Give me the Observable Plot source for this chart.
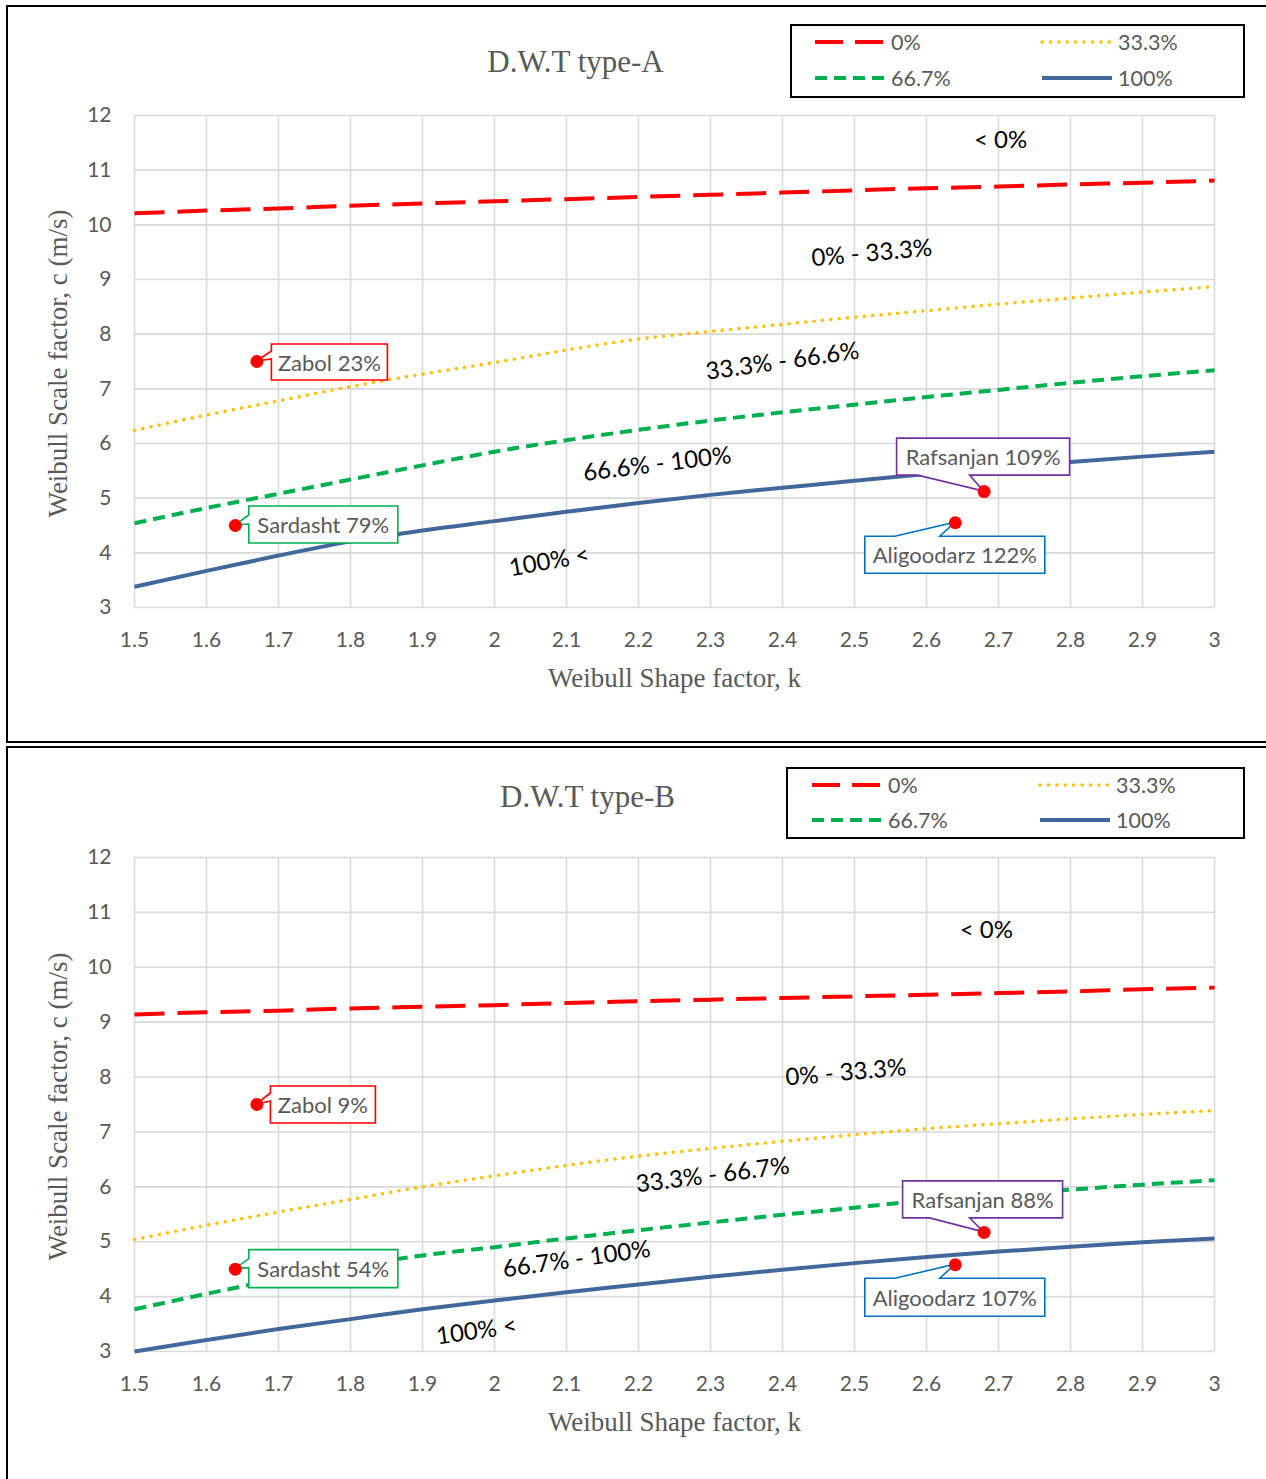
<!DOCTYPE html>
<html>
<head>
<meta charset="utf-8">
<script src="https://cdn.jsdelivr.net/npm/d3@7"></script>
<script src="https://cdn.jsdelivr.net/npm/@observablehq/plot@0.6"></script>
<style>
  body { margin: 0; background: #fff; }
  #root { position: relative; width: 1266px; height: 1479px; overflow: hidden; font-family: Lato, "Liberation Sans", sans-serif; }
  .frame { position: absolute; border: 2px solid #000; box-sizing: border-box; }
  .chart { position: absolute; left: 0; }
  .legend { position: absolute; }
</style>
</head>
<body>
<div id="root"></div>
<script>
// ---------------- DATA ----------------
const kValues = [1.5, 1.6, 1.7, 1.8, 1.9, 2.0, 2.1, 2.2, 2.3, 2.4, 2.5, 2.6, 2.7, 2.8, 2.9, 3.0];
const seriesNames = ["0%", "33.3%", "66.7%", "100%"];

// D.W.T type-A : Weibull scale factor c (m/s) for each k
const typeA_0   = [10.21, 10.26, 10.30, 10.35, 10.39, 10.43, 10.47, 10.51, 10.55, 10.59, 10.63, 10.67, 10.70, 10.74, 10.77, 10.81];
const typeA_333 = [6.24, 6.52, 6.78, 7.04, 7.27, 7.48, 7.71, 7.91, 8.05, 8.18, 8.31, 8.43, 8.55, 8.66, 8.77, 8.87];
const typeA_667 = [4.54, 4.82, 5.08, 5.34, 5.60, 5.85, 6.06, 6.25, 6.42, 6.57, 6.71, 6.85, 6.98, 7.11, 7.23, 7.34];
const typeA_100 = [3.38, 3.67, 3.95, 4.21, 4.41, 4.58, 4.75, 4.91, 5.06, 5.19, 5.32, 5.44, 5.55, 5.66, 5.76, 5.85];

// D.W.T type-B
const typeB_0   = [9.14, 9.18, 9.21, 9.25, 9.28, 9.31, 9.35, 9.38, 9.41, 9.44, 9.47, 9.50, 9.53, 9.56, 9.60, 9.63];
const typeB_333 = [5.04, 5.30, 5.54, 5.77, 6.00, 6.20, 6.39, 6.56, 6.70, 6.83, 6.95, 7.06, 7.15, 7.24, 7.32, 7.39];
const typeB_667 = [3.77, 4.05, 4.32, 4.55, 4.75, 4.90, 5.06, 5.21, 5.35, 5.49, 5.62, 5.76, 5.87, 5.95, 6.04, 6.12];
const typeB_100 = [3.00, 3.21, 3.41, 3.59, 3.77, 3.93, 4.08, 4.22, 4.36, 4.49, 4.61, 4.72, 4.82, 4.91, 4.99, 5.06];

// Sites
const siteNames = ["Zabol", "Sardasht", "Rafsanjan", "Aligoodarz"];
const siteK     = [1.67, 1.64, 2.68, 2.64];
const siteC_A   = [7.50, 4.50, 5.12, 4.55];
const siteC_B   = [7.50, 4.50, 5.17, 4.58];
const sitePct_A = [23, 79, 109, 122];
const sitePct_B = [9, 54, 88, 107];

// Region labels (anchored in data coordinates)
const regionText_A = ["< 0%", "0% - 33.3%", "33.3% - 66.6%", "66.6% - 100%", "100% <"];
const regionK_A    = [2.703, 2.524, 2.40, 2.226, 2.076];
const regionC_A    = [11.54, 9.48, 7.50, 5.62, 3.84];
const regionText_B = ["< 0%", "0% - 33.3%", "33.3% - 66.7%", "66.7% - 100%", "100% <"];
const regionK_B    = [2.683, 2.488, 2.303, 2.114, 1.975];
const regionC_B    = [10.67, 8.08, 6.21, 4.68, 3.37];

// Ticks
const xTicks = [1.5, 1.6, 1.7, 1.8, 1.9, 2, 2.1, 2.2, 2.3, 2.4, 2.5, 2.6, 2.7, 2.8, 2.9, 3];
const yTicks = [3, 4, 5, 6, 7, 8, 9, 10, 11, 12];

// ---------------- STYLES / LAYOUT ----------------
const seriesStyle = {
  "0%":    { stroke: "#ff0000", width: 4,   dash: "30 13", cap: "butt" },
  "33.3%": { stroke: "#ffc000", width: 3.5, dash: "0.1 8.3", cap: "round" },
  "66.7%": { stroke: "#00b050", width: 4,   dash: "12 7", cap: "butt" },
  "100%":  { stroke: "#44679b", width: 4,   dash: null, cap: "butt" }
};
const regionRotate = {
  A: [0, -5, -8, -7, -10],
  B: [0, -5, -7, -8, -8]
};
const calloutColor = { Zabol: "#ff0000", Sardasht: "#00b050", Rafsanjan: "#7030a0", Aligoodarz: "#0070c0" };
const calloutLayout = {
  A: {
    Zabol:      { dx: 15,  dy: -17, w: 116, h: 36, side: "left",   a: 7,  b: 15 },
    Sardasht:   { dx: 14,  dy: -19, w: 149, h: 37, side: "left",   a: 9,  b: 18 },
    Rafsanjan:  { dx: -87, dy: -53, w: 173, h: 37, side: "bottom", a: 21, b: 73 },
    Aligoodarz: { dx: -90, dy: 14,  w: 180, h: 37, side: "top",    a: 30, b: 75 }
  },
  B: {
    Zabol:      { dx: 14,  dy: -18, w: 105, h: 37, side: "left",   a: 7,  b: 15 },
    Sardasht:   { dx: 14,  dy: -19, w: 149, h: 38, side: "left",   a: 9,  b: 18 },
    Rafsanjan:  { dx: -81, dy: -51, w: 160, h: 37, side: "bottom", a: 27, b: 67 },
    Aligoodarz: { dx: -90, dy: 14,  w: 180, h: 38, side: "top",    a: 30, b: 75 }
  }
};

const GRAY = "#595959";
const SANS = "Lato, 'Liberation Sans', sans-serif";
const SERIF = "'Liberation Serif', 'Times New Roman', serif";

// ---------------- BUILD ----------------
const root = document.getElementById("root");

function addFrame(left, top, width, height) {
  const d = document.createElement("div");
  d.className = "frame";
  Object.assign(d.style, { left: left + "px", top: top + "px", width: width + "px", height: height + "px" });
  root.appendChild(d);
}

function calloutPath(px, py, L) {
  const x0 = px + L.dx, y0 = py + L.dy, x1 = x0 + L.w, y1 = y0 + L.h;
  let p = `M${x0},${y0}`;
  if (L.side === "top") p += `L${x0 + L.a},${y0}L${px},${py}L${x0 + L.b},${y0}`;
  p += `L${x1},${y0}L${x1},${y1}`;
  if (L.side === "bottom") p += `L${x0 + L.b},${y1}L${px},${py}L${x0 + L.a},${y1}`;
  p += `L${x0},${y1}`;
  if (L.side === "left") p += `L${x0},${y0 + L.b}L${px},${py}L${x0},${y0 + L.a}`;
  return p + "Z";
}

function makePanel(cfg) {
  const curves = cfg.curves;
  const rows = [];
  seriesNames.forEach((s, i) => kValues.forEach((k, j) => rows.push({ series: s, k, c: curves[i][j] })));
  const sites = siteNames.map((n, i) => ({ name: n, k: siteK[i], c: cfg.siteC[i], pct: cfg.sitePct[i] }));
  const regions = cfg.regionText.map((t, i) => ({ text: t, k: cfg.regionK[i], c: cfg.regionC[i], rot: regionRotate[cfg.key][i] }));

  const lineMarks = seriesNames.map(s => {
    const st = seriesStyle[s];
    return Plot.line(rows.filter(r => r.series === s), {
      x: "k", y: "c", curve: "monotone-x",
      stroke: st.stroke, strokeWidth: st.width,
      strokeDasharray: st.dash || undefined, strokeLinecap: st.cap
    });
  });

  const chart = Plot.plot({
    width: 1266, height: cfg.height,
    marginLeft: 134, marginRight: 52, marginTop: 115, marginBottom: cfg.marginBottom,
    style: { fontFamily: SANS, fontSize: "21px", color: GRAY, background: "transparent", overflow: "visible" },
    x: { domain: [1.5, 3], label: null },
    y: { domain: [3, 12], label: null },
    marks: [
      Plot.gridX(xTicks, { stroke: "#d9d9d9", strokeOpacity: 1, strokeWidth: 1.6 }),
      Plot.gridY(yTicks, { stroke: "#d9d9d9", strokeOpacity: 1, strokeWidth: 1.6 }),
      Plot.axisX(xTicks, { tickSize: 0, tickPadding: 25, tickFormat: d => String(d), fill: GRAY, fontSize: 21, label: null }),
      Plot.axisY(yTicks, { tickSize: 0, tickPadding: 23, tickFormat: d => String(d), fill: GRAY, fontSize: 21, label: null }),
      ...lineMarks,
      Plot.text(regions, { x: "k", y: "c", text: "text", rotate: "rot", fill: "#000", fontSize: 24, fontFamily: SANS }),
      Plot.text([cfg.title], { text: d => d, frameAnchor: "top-left", textAnchor: "middle", lineAnchor: "middle", dx: cfg.titleDx, dy: cfg.titleDy, fontFamily: SERIF, fontSize: 31, fill: GRAY }),
      Plot.text(["Weibull Scale factor, c (m/s)"], { text: d => d, frameAnchor: "left", textAnchor: "middle", lineAnchor: "middle", dx: -76, dy: 2, rotate: -90, fontFamily: SERIF, fontSize: 27, fill: GRAY }),
      Plot.text(["Weibull Shape factor, k"], { text: d => d, frameAnchor: "bottom", textAnchor: "middle", lineAnchor: "middle", dx: 0, dy: 71, fontFamily: SERIF, fontSize: 27, fill: GRAY }),
      Plot.dot(sites, { x: "k", y: "c", r: 6.5, fill: "#ff0000", stroke: "none" })
    ]
  });

  chart.classList.add("chart");
  chart.style.top = cfg.top + "px";
  root.appendChild(chart);

  // Callouts (through the plot's own scales), placed beneath the dots
  const sx = chart.scale("x"), sy = chart.scale("y");
  const X = d3.scaleLinear(sx.domain, sx.range);
  const Y = d3.scaleLinear(sy.domain, sy.range);
  const svg = d3.select(chart);
  const dotsNode = chart.lastElementChild;
  const g = svg.insert("g", () => dotsNode);
  sites.forEach(s => {
    const L = calloutLayout[cfg.key][s.name];
    const px = X(s.k), py = Y(s.c);
    g.append("path").attr("d", calloutPath(px, py, L))
      .attr("fill", "#fff").attr("stroke", calloutColor[s.name]).attr("stroke-width", 1.6)
      .attr("stroke-linejoin", "miter");
    g.append("text")
      .attr("x", px + L.dx + L.w / 2).attr("y", py + L.dy + L.h / 2)
      .attr("text-anchor", "middle").attr("dominant-baseline", "central")
      .attr("font-family", SANS).attr("font-size", 22).attr("fill", GRAY)
      .text(`${s.name} ${s.pct}%`);
  });
  return chart;
}

function makeLegend(cfg) {
  const W = cfg.w, H = cfg.h;
  const div = document.createElement("div");
  div.className = "legend";
  Object.assign(div.style, { left: cfg.left + "px", top: cfg.top + "px", width: W + "px", height: H + "px" });
  root.appendChild(div);
  const svg = d3.select(div).append("svg").attr("width", W).attr("height", H);
  svg.append("rect").attr("x", 1).attr("y", 1).attr("width", W - 2).attr("height", H - 2)
    .attr("fill", "#fff").attr("stroke", "#000").attr("stroke-width", 2);
  seriesNames.forEach((s, i) => {
    const col = i % 2, row = Math.floor(i / 2);
    const x0 = cfg.colX[col], y = cfg.rowY[row];
    const st = seriesStyle[s];
    svg.append("line").attr("x1", x0).attr("x2", x0 + cfg.lineW).attr("y1", y).attr("y2", y)
      .attr("stroke", st.stroke).attr("stroke-width", st.width)
      .attr("stroke-dasharray", st.dash === "30 13" ? "28 12" : st.dash)
      .attr("stroke-linecap", st.cap);
    svg.append("text").attr("x", x0 + cfg.lineW + 6).attr("y", y)
      .attr("dominant-baseline", "central").attr("font-family", SANS).attr("font-size", 21.5)
      .attr("fill", GRAY).text(s);
  });
}

// Frames
addFrame(6, 5, 1275, 738);
addFrame(6, 746, 1275, 800);

makePanel({
  key: "A", top: 0, height: 742, marginBottom: 135,
  curves: [typeA_0, typeA_333, typeA_667, typeA_100],
  siteC: siteC_A, sitePct: sitePct_A,
  regionText: regionText_A, regionK: regionK_A, regionC: regionC_A,
  title: "D.W.T type-A", titleDx: 441, titleDy: -53
});
makePanel({
  key: "B", top: 742, height: 737, marginBottom: 128,
  curves: [typeB_0, typeB_333, typeB_667, typeB_100],
  siteC: siteC_B, sitePct: sitePct_B,
  regionText: regionText_B, regionK: regionK_B, regionC: regionC_B,
  title: "D.W.T type-B", titleDx: 453, titleDy: -60
});

makeLegend({ left: 790, top: 24, w: 455, h: 74, colX: [25, 252], rowY: [18, 54], lineW: 70 });
makeLegend({ left: 786, top: 767, w: 459, h: 72, colX: [26, 254], rowY: [18, 53], lineW: 70 });
</script>
</body>
</html>
